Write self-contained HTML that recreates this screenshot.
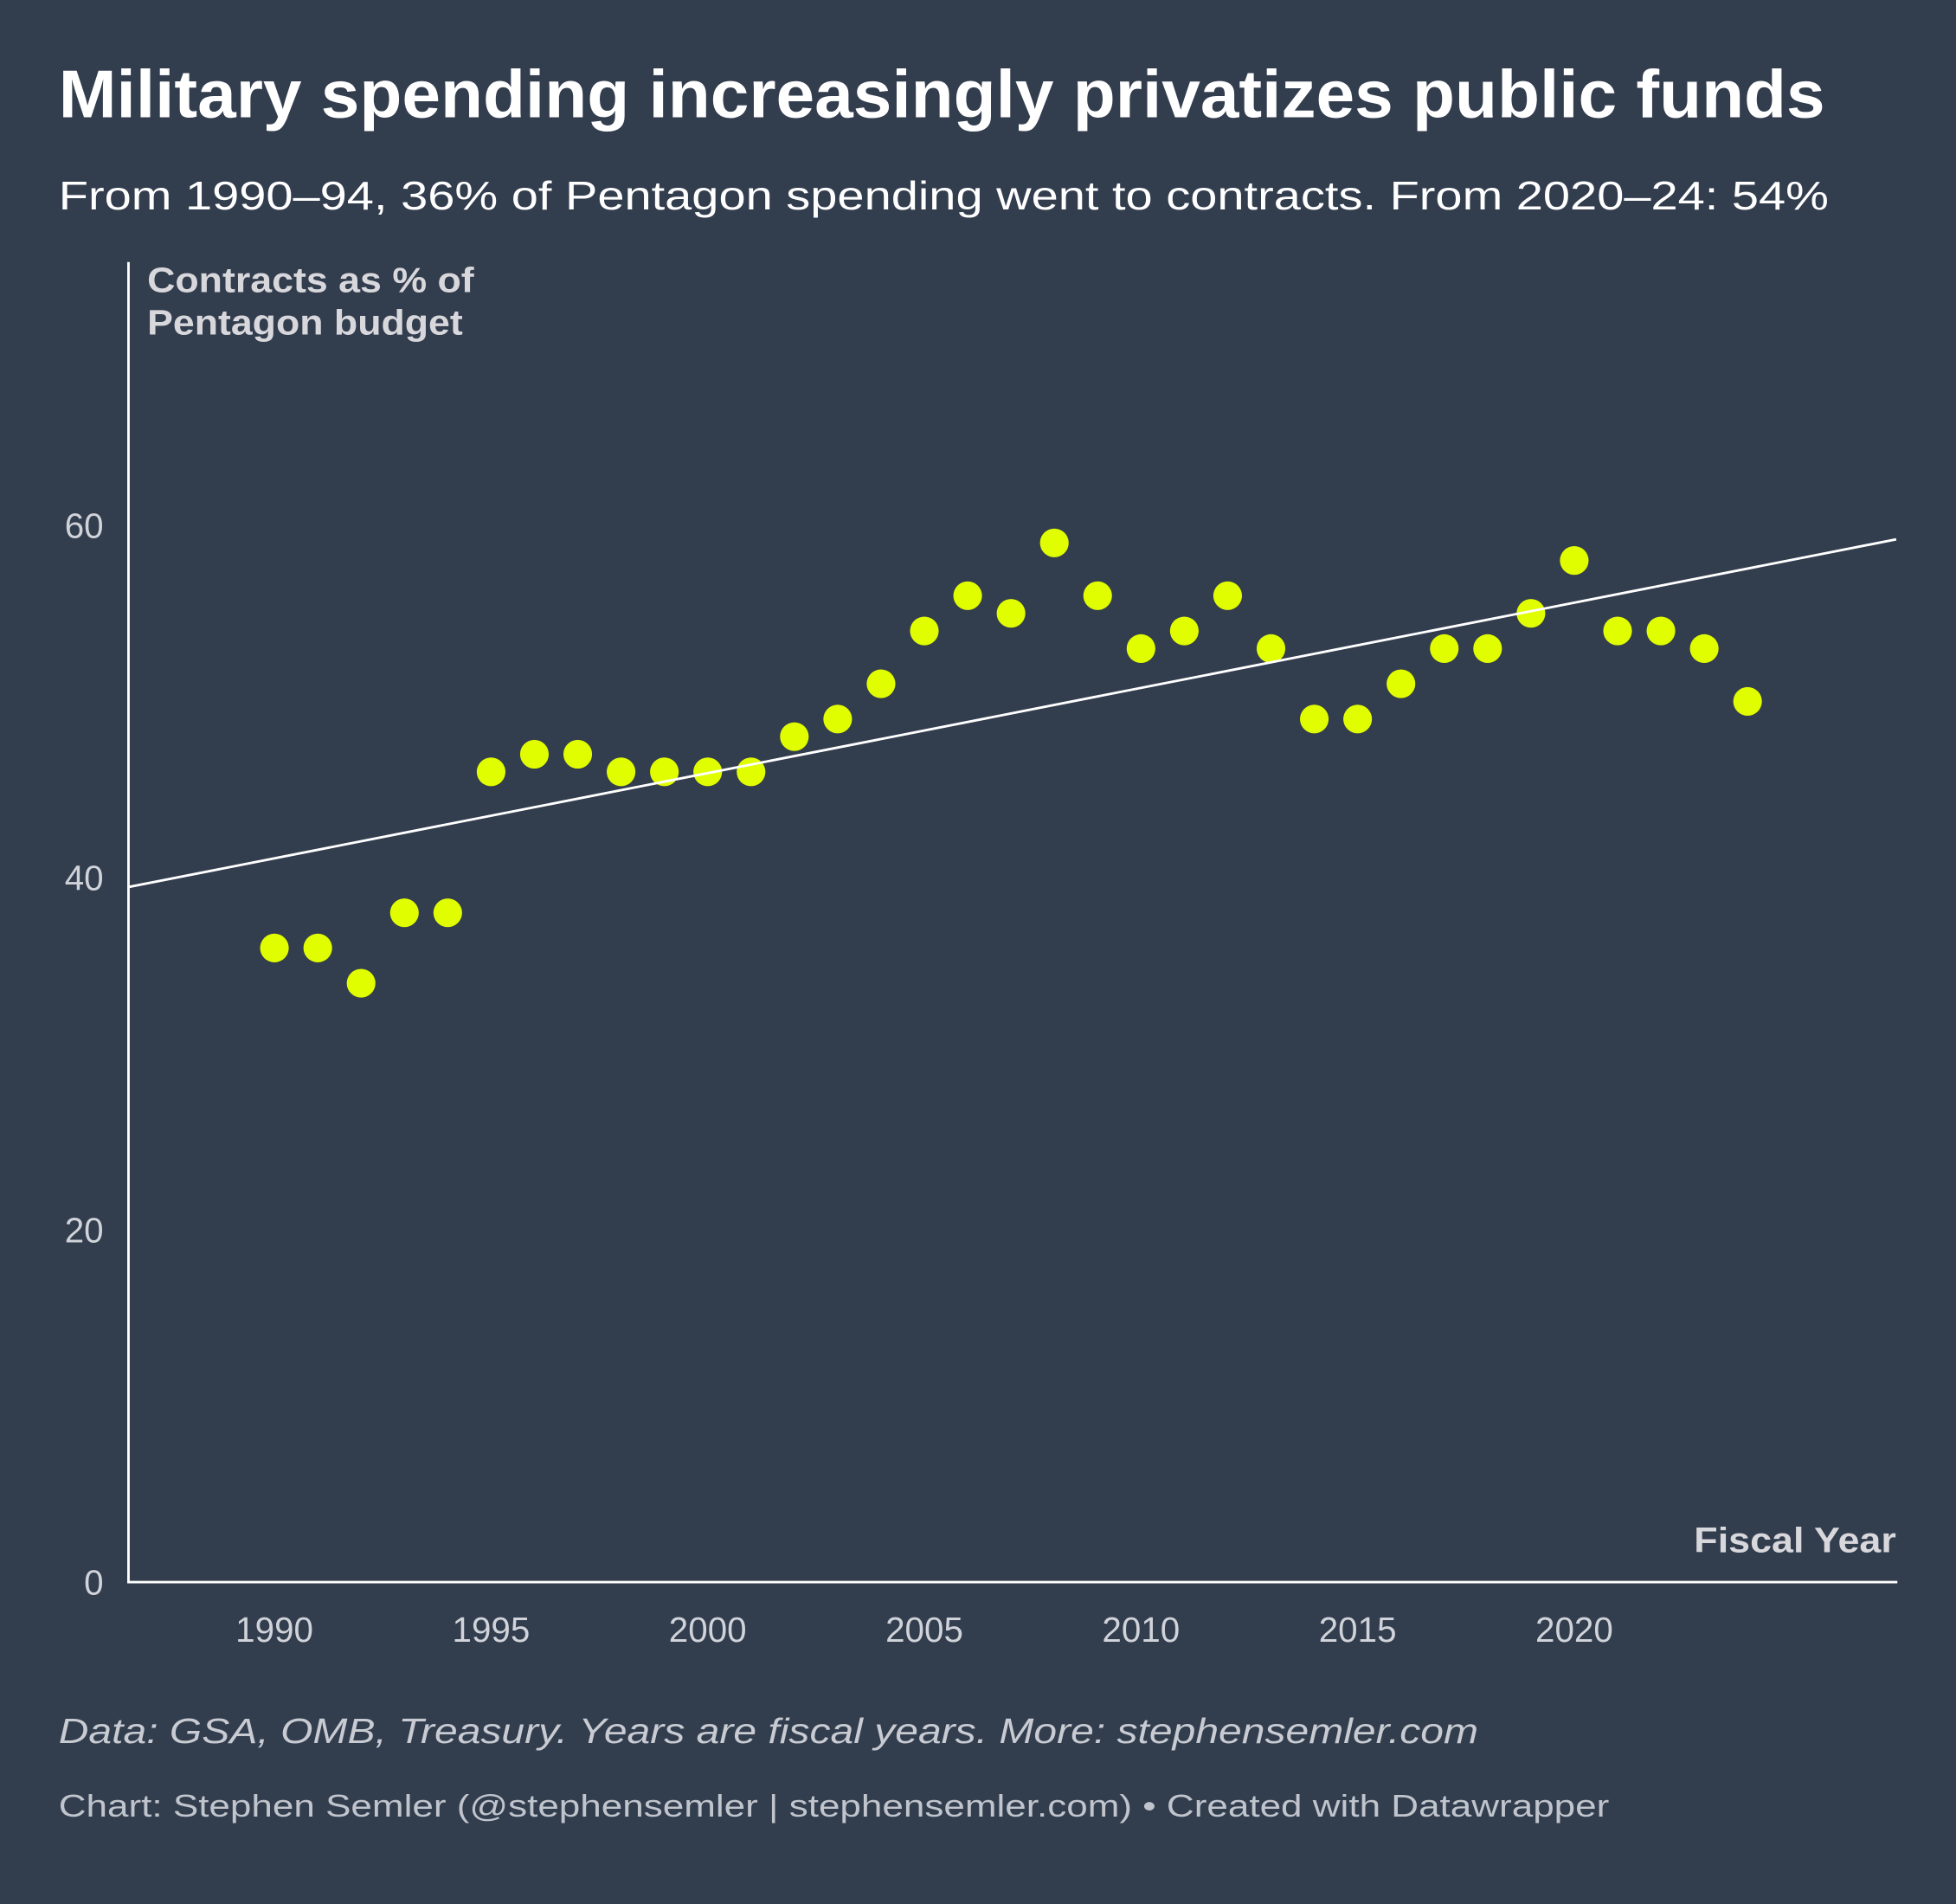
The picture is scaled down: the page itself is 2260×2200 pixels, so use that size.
<!DOCTYPE html>
<html><head><meta charset="utf-8">
<style>
html,body{margin:0;padding:0;background:#323d4e;}
svg{display:block;}
text{font-family:"Liberation Sans",sans-serif;}
</style></head>
<body>
<svg id="chart" width="2260" height="2200" viewBox="0 0 1568 1526" preserveAspectRatio="none" xmlns="http://www.w3.org/2000/svg">
<rect width="1568" height="1526" fill="#323d4e"/>
<text x="47" y="94" font-size="54" font-weight="bold" fill="#ffffff" textLength="1416" lengthAdjust="spacingAndGlyphs">Military spending increasingly privatizes public funds</text>
<text x="47" y="168" font-size="32" fill="#ffffff" textLength="1419" lengthAdjust="spacingAndGlyphs">From 1990–94, 36% of Pentagon spending went to contracts. From 2020–24: 54%</text>
<g id="axes"></g>
<g id="marks"></g>
<text font-size="28" font-weight="bold" fill="#d8d8dc"><tspan x="118" y="234" textLength="262" lengthAdjust="spacingAndGlyphs">Contracts as % of</tspan><tspan x="118" y="268" textLength="253" lengthAdjust="spacingAndGlyphs">Pentagon budget</tspan></text>
<text x="1358" y="1244" font-size="28" font-weight="bold" fill="#d8d8dc" textLength="162" lengthAdjust="spacingAndGlyphs">Fiscal Year</text>
<text x="47" y="1397" font-size="28" font-style="italic" fill="#c8cbd2" textLength="1138" lengthAdjust="spacingAndGlyphs">Data: GSA, OMB, Treasury. Years are fiscal years. More: stephensemler.com</text>
<text x="47" y="1456" font-size="25" fill="#c0c4cc" textLength="1243" lengthAdjust="spacingAndGlyphs">Chart: Stephen Semler (@stephensemler | stephensemler.com) • Created with Datawrapper</text>
</svg>
<script>
const years = [1990,1991,1992,1993,1994,1995,1996,1997,1998,1999,2000,2001,2002,2003,2004,2005,2006,2007,2008,2009,2010,2011,2012,2013,2014,2015,2016,2017,2018,2019,2020,2021,2022,2023,2024];
const values = [36,36,34,38,38,46,47,47,46,46,46,46,48,49,51,54,56,55,59,56,53,54,56,53,49,49,51,53,53,55,58,54,54,53,50];
const yTicks = [0,20,40,60];
const xTicks = [1990,1995,2000,2005,2010,2015,2020];
const trendYears = [1986.63,2027.43];
const trendValues = [39.46,59.2];

const NS = "http://www.w3.org/2000/svg";
const xS = y => 220 + (y - 1990) * 34.733;
const yS = v => 1268 - v * 14.117;
const axes = document.getElementById('axes');
const marks = document.getElementById('marks');
function mk(tag, attrs, parent){const e=document.createElementNS(NS,tag);for(const k in attrs)e.setAttribute(k,attrs[k]);parent.appendChild(e);return e;}

let yl = mk('line',{x1:103,y1:210,x2:103,y2:1268,stroke:'#ffffff','stroke-width':2},axes);


let xl = mk('line',{x1:102,y1:1268,x2:1521,y2:1268,stroke:'#ffffff','stroke-width':2},axes);



yTicks.forEach(v=>{
  const t = mk('text',{x:83,y:yS(v)+10,'font-size':28,fill:'#d0d3d9','text-anchor':'end'},axes);
  t.textContent = v;
  
  
});
xTicks.forEach(y=>{
  const t = mk('text',{x:xS(y),y:1316,'font-size':28,fill:'#d0d3d9','text-anchor':'middle'},axes);
  t.textContent = y;
  
  
});

years.forEach((y,i)=>{
  const c = mk('circle',{cx:xS(y),cy:yS(values[i]),r:11.5,fill:'#e1fe00'},marks);
  
  
});

const tl = mk('line',{x1:xS(trendYears[0]),y1:yS(trendValues[0]),x2:xS(trendYears[1]),y2:yS(trendValues[1]),stroke:'#ffffff','stroke-width':2},marks);


</script>
</body></html>
